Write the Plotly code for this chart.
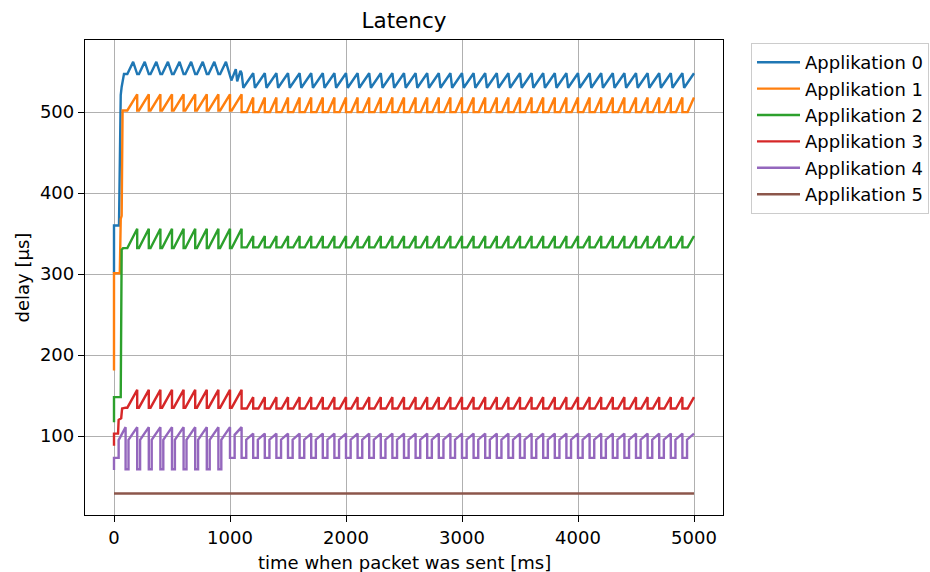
import plotly.graph_objects as go

# ---------------- data ----------------
names = ["Applikation 0", "Applikation 1", "Applikation 2",
         "Applikation 3", "Applikation 4", "Applikation 5"]
colors = ["#1f77b4", "#ff7f0e", "#2ca02c", "#d62728", "#9467bd", "#8c564b"]

# tooth (period) start times in ms
p1_starts = [100, 200, 300, 400, 500, 600, 700, 800, 900, 1000]
p2_starts = [1100, 1200, 1300, 1400, 1500, 1600, 1700, 1800, 1900, 2000,
             2100, 2200, 2300, 2400, 2500, 2600, 2700, 2800, 2900, 3000,
             3100, 3200, 3300, 3400, 3500, 3600, 3700, 3800, 3900, 4000,
             4100, 4200, 4300, 4400, 4500, 4600, 4700, 4800, 4900]

# start-up vertices (time ms, delay us)
app0_start_t = [0, 0, 43, 58, 66, 86]
app0_start_d = [301, 360, 360, 521, 531, 547]
app1_start_t = [0, 0, 50, 58, 66, 74]
app1_start_d = [181, 301, 301, 368, 372, 502]
app2_start_t = [0, 0, 58, 66, 78]
app2_start_d = [117, 148, 148, 330, 332]
app3_start_t = [0, 0, 35, 40, 62, 70]
app3_start_d = [88, 103, 103, 120, 122, 134]
app4_start_t = [0, 0, 40, 40, 100]
app4_start_d = [58, 73, 73, 95, 111]
app5_t = [0, 5000]
app5_d = [29, 29]

# transition vertices of Applikation 0 around 1000-1100 ms
app0_trans_t = [1000, 1012, 1050, 1062, 1090]
app0_trans_d = [547, 539, 553, 538, 551]

# low / high delay of the teeth in phase 1 (<~1100 ms) and phase 2
app0_p1 = (547, 562)
app0_p2 = (530, 548)
app1_p1 = (502, 522)
app1_p2 = (500, 518)
app2_p1 = (332, 356)
app2_p2 = (333, 347)
app3_p1 = (135, 157)
app3_p2 = (134, 148)
app4_p1 = (59, 111)
app4_mid = (73, 111)
app4_p2 = (73, 103)

# ---------------- tooth drawing styles (offset ms, fraction low->high) ----
shape_hump = [(0, 0), (15, 0), (65, 1), (100, 0)]
shape_v = [(0, 1), (15, 0), (100, 1)]
shape_saw_short = [(0, 0), (15, 0), (100, 1)]
shape_saw_flat = [(0, 0), (45, 0), (100, 1)]
shape_square = [(0, 0), (25, 0), (25, 0.7), (100, 1)]
shape_square2 = [(0, 0), (40, 0), (40, 0.75), (100, 1)]


def teeth(starts, lohi, shape):
    lo, hi = lohi
    t, d = [], []
    for s in starts:
        for dt, f in shape:
            t.append(s + dt)
            d.append(lo + f * (hi - lo))
    return t, d


def build(parts):
    t, d = [], []
    for pt, pd in parts:
        t += list(pt)
        d += list(pd)
    return t, d


series = [
    build([(app0_start_t, app0_start_d),
           teeth(p1_starts[:-1], app0_p1, shape_hump),
           (app0_trans_t, app0_trans_d),
           teeth(p2_starts, app0_p2, shape_v)]),
    build([(app1_start_t, app1_start_d),
           teeth(p1_starts, app1_p1, shape_saw_short),
           teeth(p2_starts, app1_p2, shape_saw_flat)]),
    build([(app2_start_t, app2_start_d),
           teeth(p1_starts, app2_p1, shape_saw_short),
           teeth(p2_starts, app2_p2, shape_saw_flat)]),
    build([(app3_start_t, app3_start_d),
           teeth(p1_starts, app3_p1, shape_saw_short),
           teeth(p2_starts, app3_p2, shape_saw_flat)]),
    build([(app4_start_t, app4_start_d),
           teeth(p1_starts[:-1], app4_p1, shape_square),
           teeth(p1_starts[-1:], app4_mid, shape_square2),
           teeth(p2_starts, app4_p2, shape_square2)]),
    (app5_t, app5_d),
]

FONT = "DejaVu Sans"
FS = 18
fig = go.Figure()
for i, (t, d) in enumerate(series):
    fig.add_trace(go.Scatter(
        x=t, y=d, mode="lines", name=names[i], legendgroup=names[i],
        line=dict(color=colors[i], width=2.4), hoverinfo="skip"))

axis_common = dict(
    showline=True, mirror=True, linecolor="black", linewidth=1.3,
    showgrid=True, gridcolor="#b0b0b0", gridwidth=1.3,
    ticks="outside", ticklen=6, tickwidth=1.3, tickcolor="black",
    zeroline=False, automargin=False,
    tickfont=dict(family=FONT, size=FS, color="black"),
)

fig.update_layout(
    width=930, height=572,
    margin=dict(l=85, r=207, t=40, b=57, autoexpand=False),
    paper_bgcolor="white", plot_bgcolor="white",
    font=dict(family=FONT, size=FS, color="black"),
    title=dict(text="Latency", x=0.5, xref="paper", xanchor="center",
               y=1 - 20 / 572, yref="container", yanchor="middle",
               font=dict(family=FONT, size=21.5, color="black")),
    xaxis=dict(range=[-250, 5250], tickvals=[0, 1000, 2000, 3000, 4000, 5000],
               **axis_common),
    yaxis=dict(range=[2.5, 589], tickvals=[100, 200, 300, 400, 500],
               **axis_common),
    legend=dict(x=751 / 930, y=1 - 43 / 572, xref="container", yref="container",
                xanchor="left", yanchor="top",
                bgcolor="white", bordercolor="#cccccc", borderwidth=1,
                font=dict(family=FONT, size=FS, color="black"),
                tracegroupgap=3, traceorder="normal", itemwidth=43),
    showlegend=True,
    annotations=[
        dict(text="time when packet was sent [ms]", xref="paper", yref="paper",
             x=0.5, y=-(562 - 515) / 475, xanchor="center", yanchor="middle",
             showarrow=False, font=dict(family=FONT, size=FS, color="black")),
        dict(text="delay [µs]", xref="paper", yref="paper",
             x=(22 - 85) / 638, y=0.5, xanchor="center", yanchor="middle",
             textangle=-90, showarrow=False,
             font=dict(family=FONT, size=FS, color="black")),
    ],
)

fig.write_html("out.html")
